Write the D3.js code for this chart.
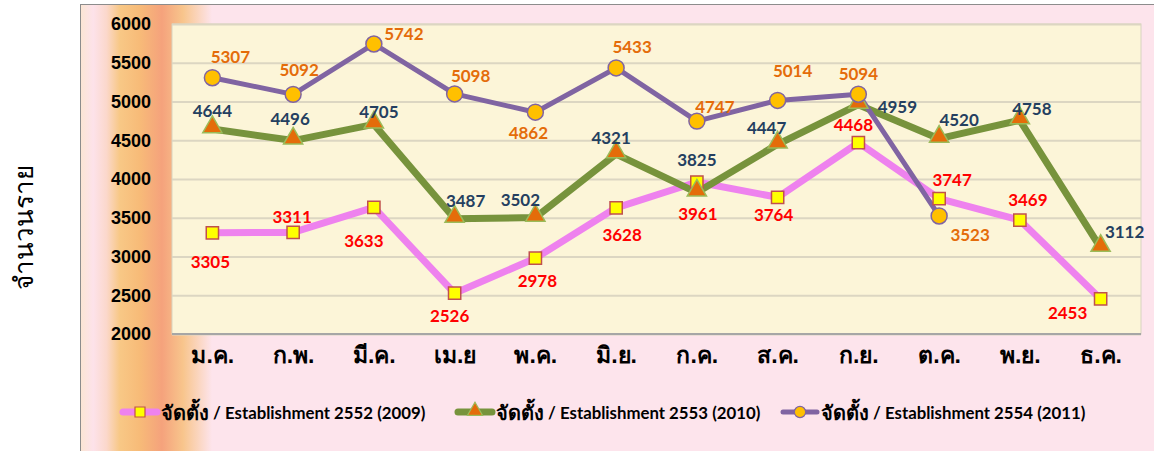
<!DOCTYPE html>
<html>
<head>
<meta charset="utf-8">
<script src="https://cdn.jsdelivr.net/npm/d3@7"></script>
<style>
  body { margin: 0; background: #fff; }
  svg { display: block; font-family: Lato, "Noto Sans", "DejaVu Sans", sans-serif; }
</style>
</head>
<body>
<div id="chart-container"></div>
<script>
// months (Thai abbreviations)
const months = ["ม.ค.", "ก.พ.", "มี.ค.", "เม.ย", "พ.ค.", "มิ.ย.", "ก.ค.", "ส.ค.", "ก.ย.", "ต.ค.", "พ.ย.", "ธ.ค."];

// series values
const est2552 = [3305, 3311, 3633, 2526, 2978, 3628, 3961, 3764, 4468, 3747, 3469, 2453];
const est2553 = [4644, 4496, 4705, 3487, 3502, 4321, 3825, 4447, 4959, 4520, 4758, 3112];
const est2554 = [5307, 5092, 5742, 5098, 4862, 5433, 4747, 5014, 5094, 3523];

const seriesThai = "จัดตั้ง";
const seriesNames = [
  " / Establishment 2552 (2009)",
  " / Establishment 2553 (2010)",
  " / Establishment 2554 (2011)"
];
const yTicks = [2000, 2500, 3000, 3500, 4000, 4500, 5000, 5500, 6000];
const yTitle = "จำนวนราย";

// label offsets from each point (layout only)
const off2552 = [[-2, 29], [-1, -16], [-10, 33], [-5, 22], [2, 22], [6, 27], [1, 31], [-4, 17], [-5, -18], [13, -19], [8, -21], [-33, 14]];
const off2553 = [[0, -19], [-3, -22], [5, -13], [11, -18], [-15, -18], [-5, -17], [0, -33], [-11, -17], [39, 2], [20, -19], [12, -12], [24, -16]];
const off2554 = [[18, -21], [6, -25], [30, -10], [16, -18], [-7, 20], [16, -21], [18, -15], [15, -30], [0, -21], [31, 19]];

const W = 1154, H = 451;
const plot = { left: 172, right: 1141, top: 24, bottom: 334 };

const svg = d3.select("#chart-container")
  .append("svg")
  .attr("width", W)
  .attr("height", H);

const defs = svg.append("defs");
const grad = defs.append("linearGradient")
  .attr("id", "strip")
  .attr("gradientUnits", "userSpaceOnUse")
  .attr("x1", 80).attr("x2", 212).attr("y1", 0).attr("y2", 0);
[
  [0, "#fbe6d2"], [0.1, "#fde2ea"], [0.2, "#fbd8cc"], [0.3, "#f8c886"],
  [0.45, "#f7bb78"], [0.62, "#f5a27c"], [0.78, "#f8c58c"], [1, "#fde4ec"]
].forEach(s => grad.append("stop").attr("offset", s[0]).attr("stop-color", s[1]));

// outer chart area
svg.append("rect")
  .attr("x", 80.5).attr("y", 4.5)
  .attr("width", W).attr("height", H)
  .attr("fill", "#fde4ec")
  .attr("stroke", "#8c8c8c");
svg.append("rect")
  .attr("x", 81).attr("y", 5)
  .attr("width", 132).attr("height", H)
  .attr("fill", "url(#strip)");

// plot background
svg.append("rect")
  .attr("x", plot.left).attr("y", plot.top)
  .attr("width", plot.right - plot.left).attr("height", plot.bottom - plot.top)
  .attr("fill", "#fcf5d8")
  .attr("stroke", "#d8d3c0");

const x = d3.scalePoint()
  .domain(months)
  .range([plot.left, plot.right])
  .padding(0.5);

const y = d3.scaleLinear()
  .domain([2000, 6000])
  .range([plot.bottom, plot.top]);

// gridlines + y labels
const yAxis = svg.append("g")
  .attr("transform", `translate(${plot.left},0)`)
  .call(d3.axisLeft(y).tickValues(yTicks).tickFormat(d3.format("d"))
    .tickSize(-(plot.right - plot.left)).tickPadding(21));
yAxis.select(".domain").remove();
yAxis.selectAll(".tick line").attr("stroke", "#dcd6c2").attr("stroke-width", 2);
yAxis.selectAll(".tick text")
  .attr("fill", "#000")
  .style("font-size", "18px")
  .style("font-weight", "bold");

// x axis
const xAxis = svg.append("g")
  .attr("transform", `translate(0,${plot.bottom})`)
  .call(d3.axisBottom(x).tickSize(0).tickPadding(13));
xAxis.select(".domain")
  .attr("d", `M${plot.left},0H${plot.right}`)
  .attr("stroke", "#a6a6a6")
  .attr("stroke-width", 2);
xAxis.selectAll(".tick text")
  .attr("fill", "#000")
  .style("font-size", "23px")
  .style("font-weight", "bold");

// y title
svg.append("text")
  .attr("transform", "translate(23,227) rotate(-90)")
  .attr("text-anchor", "middle")
  .attr("dominant-baseline", "central")
  .style("font-size", "26px")
  .text(yTitle);

const series = [
  { vals: est2552, off: off2552, line: "#ee82ee", width: 7, marker: d3.symbolSquare, size: 150, fill: "#ffff00", stroke: "#c0504d", label: "#ff0000" },
  { vals: est2553, off: off2553, line: "#77933c", width: 7, marker: d3.symbolTriangle, size: 160, fill: "#e46c0a", stroke: "#9bbb59", label: "#243f60" },
  { vals: est2554, off: off2554, line: "#8064a2", width: 5, marker: d3.symbolCircle, size: 200, fill: "#ffc000", stroke: "#8064a2", label: "#e46c0a" }
];

const line = d3.line()
  .x((d, i) => x(months[i]))
  .y(d => y(d));

// lines first
series.forEach(s => {
  svg.append("path")
    .datum(s.vals)
    .attr("d", line)
    .attr("fill", "none")
    .attr("stroke", s.line)
    .attr("stroke-width", s.width)
    .attr("stroke-linejoin", "round");
});

// markers
series.forEach(s => {
  const shift = s.marker === d3.symbolTriangle ? -2 : 0;
  svg.append("g").selectAll("path")
    .data(s.vals)
    .join("path")
    .attr("transform", (d, i) => `translate(${x(months[i])},${y(d) + shift})`)
    .attr("d", d3.symbol(s.marker, s.size))
    .attr("fill", s.fill)
    .attr("stroke", s.stroke)
    .attr("stroke-width", 1.5);
});

// data labels
series.forEach(s => {
  svg.append("g").selectAll("text")
    .data(s.vals)
    .join("text")
    .attr("x", (d, i) => x(months[i]) + s.off[i][0])
    .attr("y", (d, i) => y(d) + s.off[i][1])
    .attr("text-anchor", "middle")
    .attr("dominant-baseline", "central")
    .attr("fill", s.label)
    .style("font-size", "17px")
    .style("font-weight", "bold")
    .text(d => d);
});

// legend
const legendX = [120, 455, 780];
const legend = svg.append("g").attr("transform", "translate(0,412)");
series.forEach((s, i) => {
  const g = legend.append("g").attr("transform", `translate(${legendX[i]},0)`);
  g.append("line")
    .attr("x1", 3).attr("x2", 37)
    .attr("stroke", s.line)
    .attr("stroke-width", s.width)
    .attr("stroke-linecap", "round");
  g.append("path")
    .attr("transform", `translate(20,${s.marker === d3.symbolTriangle ? -1 : 0})`)
    .attr("d", d3.symbol(s.marker, 100))
    .attr("fill", s.fill)
    .attr("stroke", s.stroke)
    .attr("stroke-width", 1.2);
  const t = g.append("text")
    .attr("x", 41)
    .attr("dominant-baseline", "central")
    .attr("fill", "#000")
    .style("font-weight", "bold");
  t.append("tspan").style("font-size", "20px").text(seriesThai);
  t.append("tspan").style("font-size", "16.8px").text(seriesNames[i]);
});
</script>
</body>
</html>
